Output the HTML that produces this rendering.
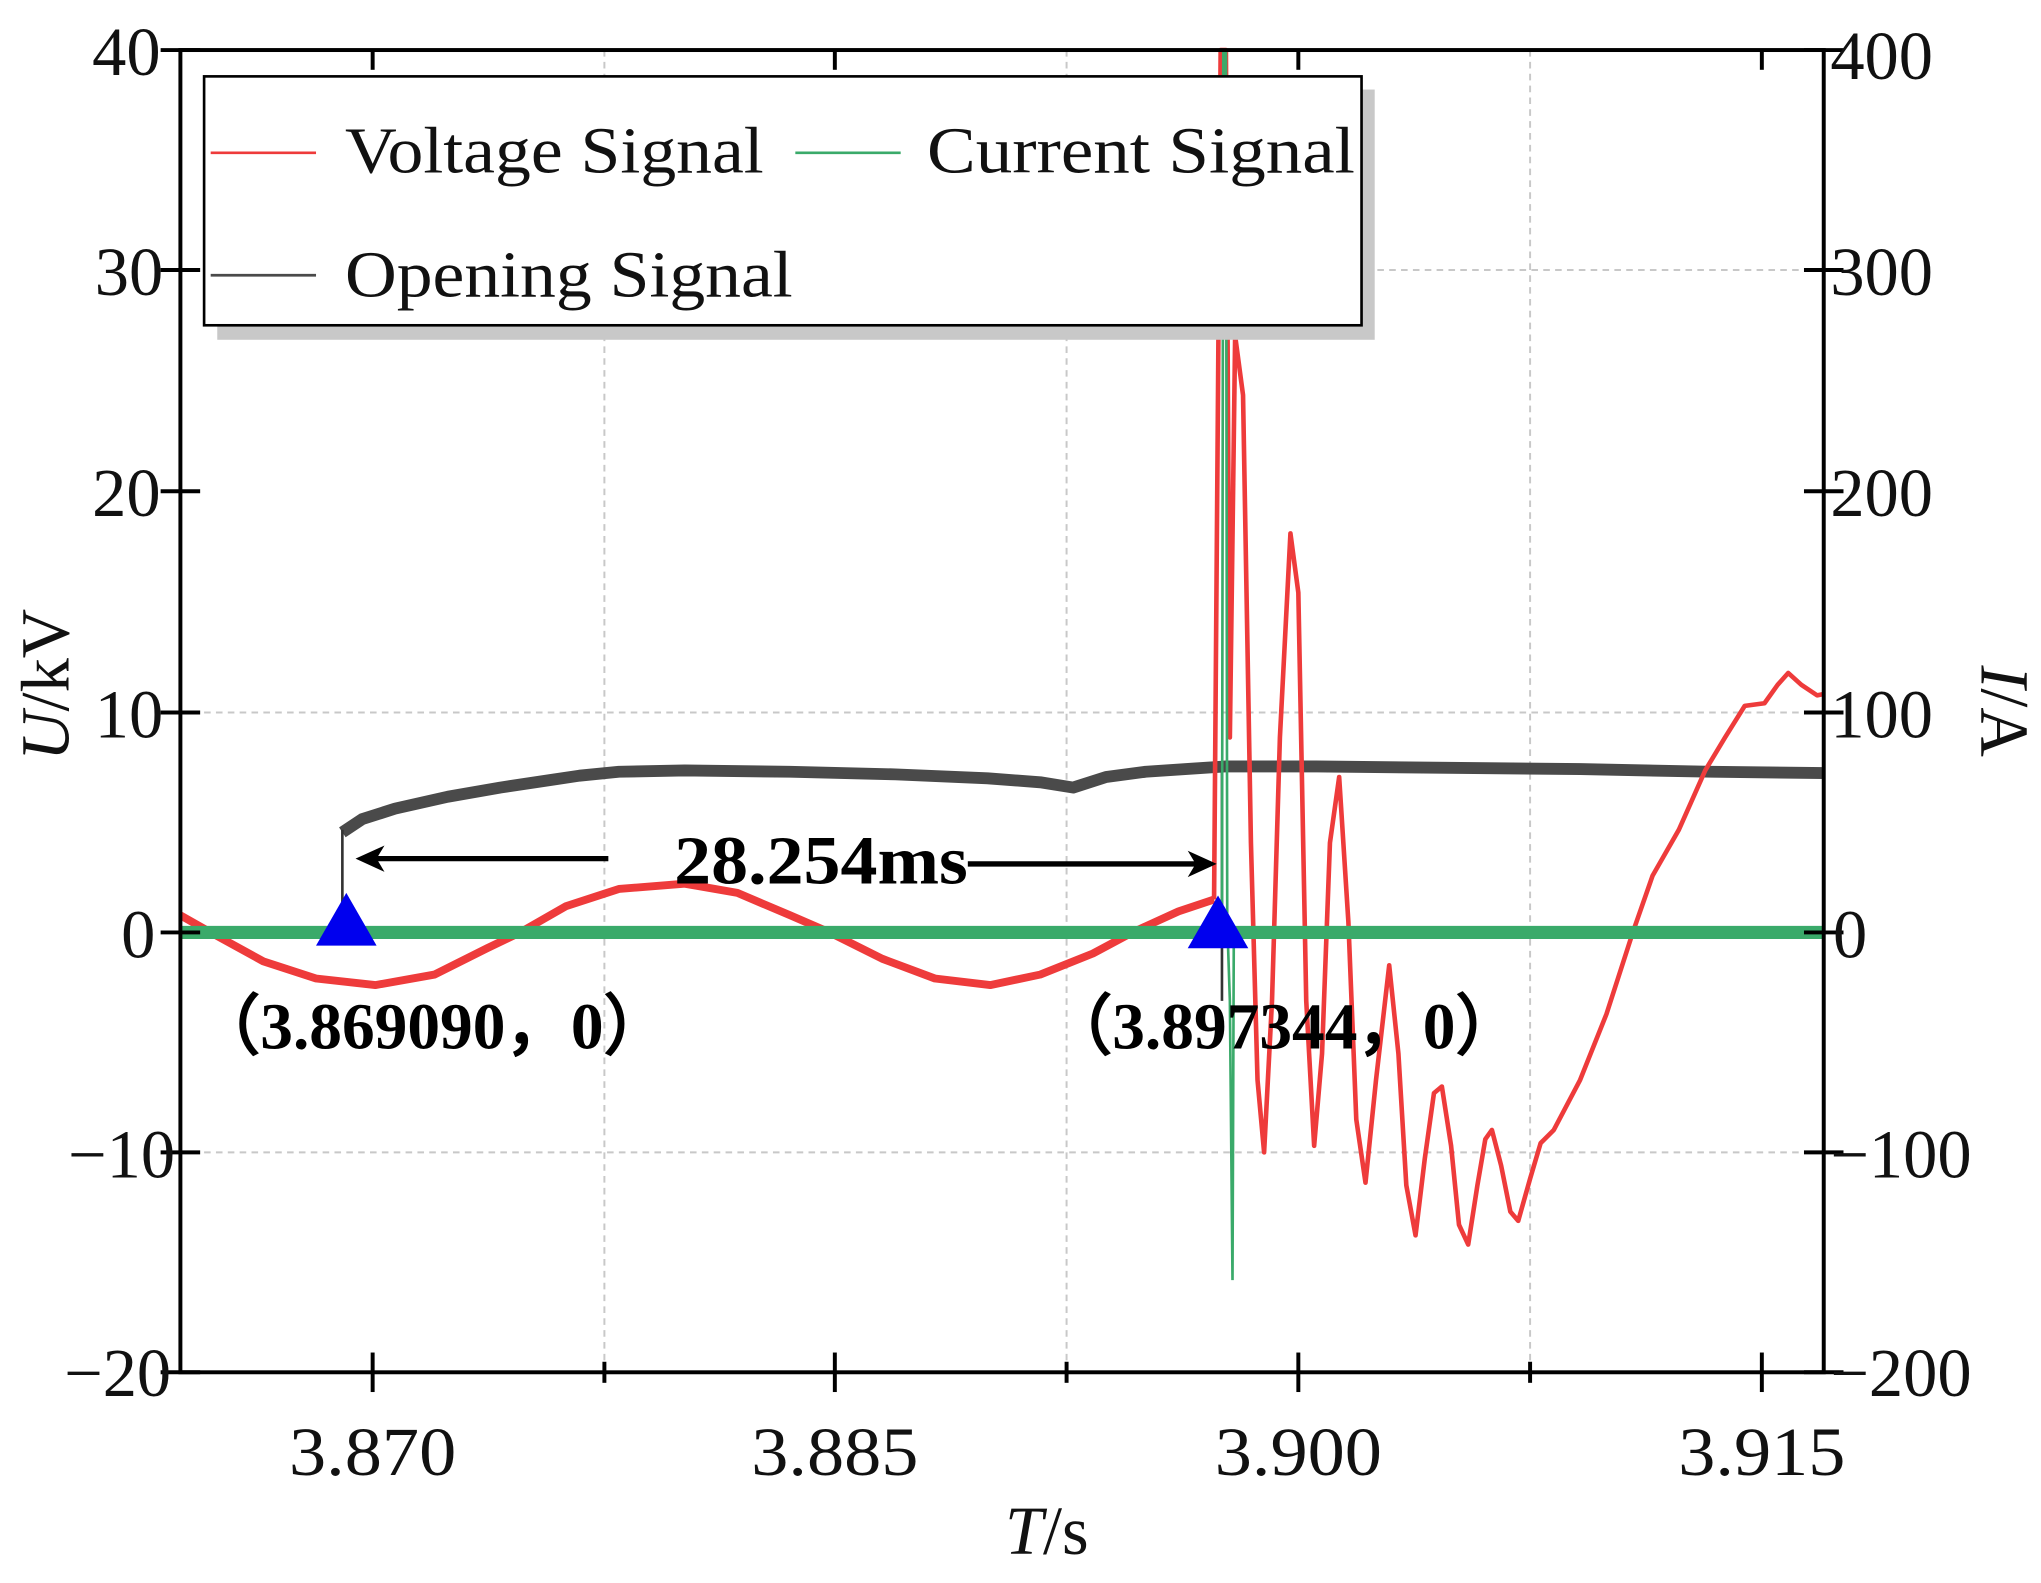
<!DOCTYPE html>
<html><head><meta charset="utf-8"><style>html,body{margin:0;padding:0;background:#fff}svg{display:block}</style></head>
<body>
<svg width="2041" height="1583" viewBox="0 0 1550 1202" preserveAspectRatio="none" xmlns="http://www.w3.org/2000/svg" font-family="'Liberation Serif',serif">
<rect width="1550" height="1202" fill="#fff"/>
<g stroke="#c8c8c8" stroke-width="1.5" stroke-dasharray="5,4" fill="none">
<line x1="137" y1="205" x2="1385" y2="205"/>
<line x1="137" y1="541" x2="1385" y2="541"/>
<line x1="137" y1="875" x2="1385" y2="875"/>
<line x1="459" y1="38" x2="459" y2="1042"/>
<line x1="810" y1="38" x2="810" y2="1042"/>
<line x1="1162" y1="38" x2="1162" y2="1042"/>
</g>
<polyline fill="none" stroke="#4a4a4a" stroke-width="9" stroke-linejoin="round" points="260,632 275,622 300,614 340,605 380,598 420,592 440,589 470,586 520,585 600,586 680,588 750,591 790,594 815,598 840,590 870,586 930,582 1000,582 1100,583 1200,584 1300,586 1385,587"/>
<line x1="260" y1="708" x2="260" y2="630" stroke="#333" stroke-width="2"/>
<line x1="928" y1="585" x2="928" y2="760" stroke="#333" stroke-width="2"/>
<polyline fill="none" stroke="#ee3b3b" stroke-width="6" stroke-linejoin="round" points="137,695 160,708 200,730 240,743 285,748 330,740 370,720 395,708 430,688 470,675 520,671 560,678 600,695 630,708 670,728 710,743 752,748 790,740 830,724 860,708 895,692 922,683"/>
<polyline fill="none" stroke="#ee3b3b" stroke-width="3.5" stroke-linejoin="round" points="922,683 927,38 931,38 934,560 938,255 944,300 950,640 955,820 960,875 966,760 972,560 980,405 986,450 992,760 998,870 1004,800 1010,640 1017,590 1024,700 1030,850 1037,898 1045,820 1055,733 1062,800 1068,900 1075,938 1082,880 1089,830 1095,825 1102,870 1108,930 1115,945 1122,900 1128,865 1133,858 1140,885 1147,920 1153,927 1162,895 1170,868 1180,858 1200,820 1220,770 1240,708 1255,665 1275,630 1295,585 1310,560 1325,536 1340,534 1350,520 1358,511 1368,520 1380,528 1385,527"/>
<line x1="137" y1="708" x2="1385" y2="708" stroke="#3aaa6a" stroke-width="10"/>
<polyline fill="none" stroke="#3aaa6a" stroke-width="2" points="928,708 929,38 931,38 932,700 934,760 936,972 937,708"/>
<polygon points="263,678 240,718 286,718" fill="#0000ee"/>
<polygon points="925,680 902,720 948,720" fill="#0000ee"/>
<g stroke="#000" stroke-width="4">
<line x1="280" y1="652" x2="462" y2="652"/>
<line x1="735" y1="656" x2="912" y2="656"/>
</g>
<polygon points="270,652 292,642 286,652 292,662" fill="#000"/>
<polygon points="924,656 902,646 908,656 902,666" fill="#000"/>
<text x="512" y="671" font-size="52" font-weight="bold" textLength="223" lengthAdjust="spacingAndGlyphs">28.254ms</text>
<text x="148" y="796" font-size="50" font-weight="bold" textLength="360" lengthAdjust="spacingAndGlyphs">（3.869090，0）</text>
<text x="795" y="796" font-size="50" font-weight="bold" textLength="360" lengthAdjust="spacingAndGlyphs">（3.897344，0）</text>
<rect x="137" y="38" width="1248" height="1004" fill="none" stroke="#000" stroke-width="3"/>
<g stroke="#000" stroke-width="3">
<line x1="122" y1="38" x2="152" y2="38"/><line x1="122" y1="205" x2="152" y2="205"/><line x1="122" y1="373" x2="152" y2="373"/><line x1="122" y1="541" x2="152" y2="541"/><line x1="122" y1="708" x2="152" y2="708"/><line x1="122" y1="875" x2="152" y2="875"/><line x1="122" y1="1042" x2="152" y2="1042"/>
<line x1="1370" y1="38" x2="1400" y2="38"/><line x1="1370" y1="205" x2="1400" y2="205"/><line x1="1370" y1="373" x2="1400" y2="373"/><line x1="1370" y1="541" x2="1400" y2="541"/><line x1="1370" y1="708" x2="1400" y2="708"/><line x1="1370" y1="875" x2="1400" y2="875"/><line x1="1370" y1="1042" x2="1400" y2="1042"/>
<line x1="283" y1="1027" x2="283" y2="1057"/><line x1="634" y1="1027" x2="634" y2="1057"/><line x1="986" y1="1027" x2="986" y2="1057"/><line x1="1338" y1="1027" x2="1338" y2="1057"/>
<line x1="459" y1="1034" x2="459" y2="1050"/><line x1="810" y1="1034" x2="810" y2="1050"/><line x1="1162" y1="1034" x2="1162" y2="1050"/>
<line x1="283" y1="38" x2="283" y2="53"/><line x1="634" y1="38" x2="634" y2="53"/><line x1="986" y1="38" x2="986" y2="53"/><line x1="1338" y1="38" x2="1338" y2="53"/>
</g>
<g font-size="52" fill="#111">
<g text-anchor="end">
<text x="122" y="57">40</text><text x="124" y="224">30</text><text x="122" y="392">20</text><text x="124" y="560">10</text><text x="118" y="727">0</text><text x="133" y="894">−10</text><text x="130" y="1060">−20</text>
</g>
<text x="1390" y="60">400</text><text x="1390" y="224">300</text><text x="1390" y="392">200</text><text x="1390" y="560">100</text><text x="1392" y="727">0</text><text x="1390" y="894">−100</text><text x="1390" y="1060">−200</text>
<g text-anchor="middle">
<text x="283" y="1120" textLength="127" lengthAdjust="spacingAndGlyphs">3.870</text><text x="634" y="1120" textLength="127" lengthAdjust="spacingAndGlyphs">3.885</text><text x="986" y="1120" textLength="127" lengthAdjust="spacingAndGlyphs">3.900</text><text x="1338" y="1120" textLength="127" lengthAdjust="spacingAndGlyphs">3.915</text>
</g>
<text x="795" y="1180" text-anchor="middle"><tspan font-style="italic">T</tspan>/s</text>
<text transform="translate(52,520) rotate(-90)" text-anchor="middle"><tspan font-style="italic">U</tspan>/kV</text>
<text transform="translate(1505,540) rotate(90)" text-anchor="middle"><tspan font-style="italic">I</tspan>/A</text>
</g>
<rect x="165" y="68" width="879" height="190" fill="#c8c8c8"/>
<rect x="155" y="58" width="879" height="189" fill="#fff" stroke="#000" stroke-width="2"/>
<line x1="160" y1="116" x2="240" y2="116" stroke="#ee3b3b" stroke-width="2"/>
<line x1="604" y1="116" x2="684" y2="116" stroke="#3aaa6a" stroke-width="2"/>
<line x1="160" y1="209" x2="240" y2="209" stroke="#4a4a4a" stroke-width="2"/>
<g font-size="50" fill="#111">
<text x="262" y="131" textLength="318" lengthAdjust="spacingAndGlyphs">Voltage Signal</text>
<text x="704" y="131" textLength="325" lengthAdjust="spacingAndGlyphs">Current Signal</text>
<text x="262" y="225" textLength="340" lengthAdjust="spacingAndGlyphs">Opening Signal</text>
</g>
</svg>
</body></html>
